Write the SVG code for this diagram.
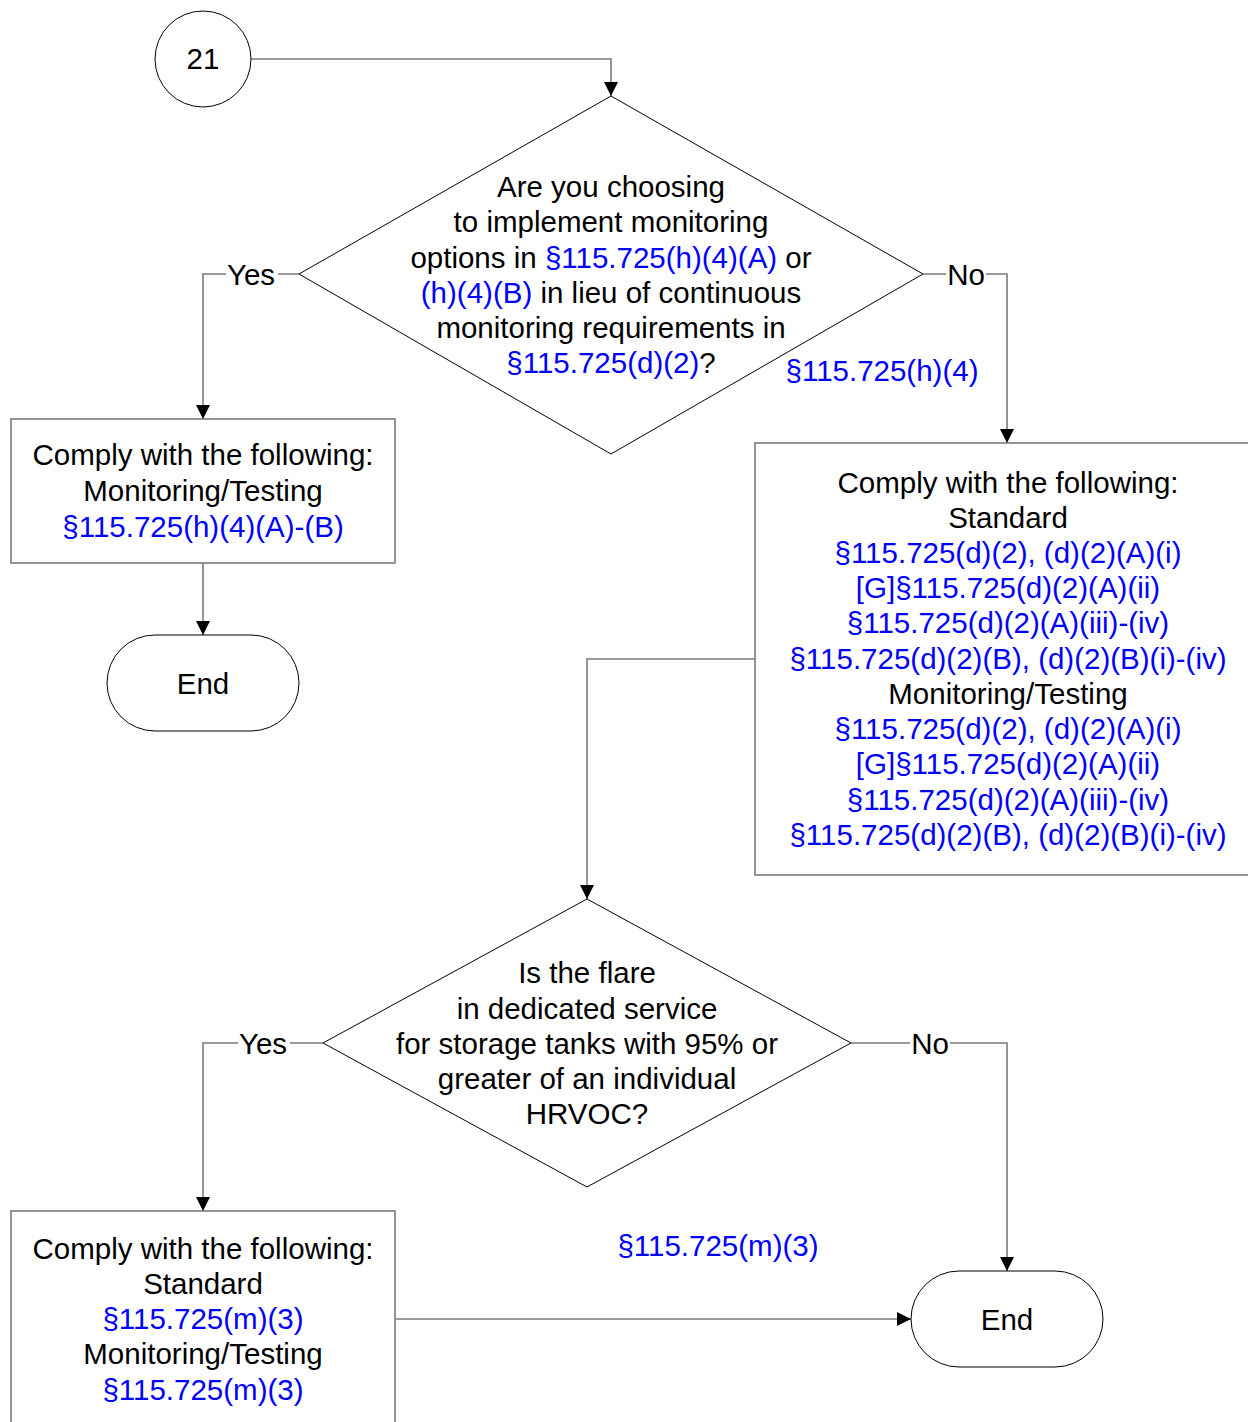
<svg xmlns="http://www.w3.org/2000/svg" width="1248" height="1422" viewBox="0 0 1248 1422">
<defs>
<style>
text{font-family:"Liberation Sans",Arial,sans-serif;font-size:29.5px;fill:#000;text-anchor:middle}
.b{fill:#0000ff}
.shape{fill:#fff;stroke:#000;stroke-width:1}
.box{fill:#fff;stroke:#7a7a7a;stroke-width:1.6}
.conn{fill:none;stroke:#7a7a7a;stroke-width:1.6}
.lbg{fill:#fff;stroke:none}
</style>
<marker id="arr" markerUnits="userSpaceOnUse" markerWidth="14" markerHeight="16" refX="14" refY="7" orient="auto" viewBox="0 0 14 14">
<path d="M0,0 L14,7 L0,14 Z" fill="#000"/>
</marker>
</defs>
<rect width="1248" height="1422" fill="#fff"/>

<g id="connectors">
<path class="conn" d="M251,59 H611 V96" marker-end="url(#arr)"/>
<path class="conn" d="M299,274 H203 V419" marker-end="url(#arr)"/>
<path class="conn" d="M923,274 H1007 V443" marker-end="url(#arr)"/>
<path class="conn" d="M203,563 V635" marker-end="url(#arr)"/>
<path class="conn" d="M755,659 H587 V899" marker-end="url(#arr)"/>
<path class="conn" d="M323,1043 H203 V1211" marker-end="url(#arr)"/>
<path class="conn" d="M851,1043 H1007 V1271" marker-end="url(#arr)"/>
<path class="conn" d="M395,1319 H911" marker-end="url(#arr)"/>
<rect class="lbg" x="226" y="258" width="52" height="32"/>
<text x="251" y="285">Yes</text>
<rect class="lbg" x="946" y="258" width="40" height="32"/>
<text x="966" y="285">No</text>
<rect class="lbg" x="238" y="1027" width="52" height="32"/>
<text x="263" y="1054">Yes</text>
<rect class="lbg" x="910" y="1027" width="40" height="32"/>
<text x="930" y="1054">No</text>
<text class="b" x="882" y="381">§115.725(h)(4)</text>
<text class="b" x="718" y="1256">§115.725(m)(3)</text>
</g>

<g id="n21">
<circle class="shape" cx="203" cy="59" r="48"/>
<text x="203" y="69">21</text>
</g>

<g id="d1">
<polygon class="shape" points="611,96 923,274 611,454 299,274"/>
<text x="611" y="197">Are you choosing</text>
<text x="611" y="232">to implement monitoring</text>
<text x="611" y="268">options in <tspan class="b">§115.725(h)(4)(A)</tspan> or</text>
<text x="611" y="303"><tspan class="b">(h)(4)(B)</tspan> in lieu of continuous</text>
<text x="611" y="338">monitoring requirements in</text>
<text x="611" y="373"><tspan class="b">§115.725(d)(2)</tspan>?</text>
</g>

<g id="boxL">
<rect class="box" x="11" y="419" width="384" height="144"/>
<text x="203" y="465">Comply with the following:</text>
<text x="203" y="501">Monitoring/Testing</text>
<text class="b" x="203" y="537">§115.725(h)(4)(A)-(B)</text>
</g>

<g id="end1">
<rect class="shape" x="107" y="635" width="192" height="96" rx="48" ry="48"/>
<text x="203" y="694">End</text>
</g>

<g id="boxR">
<rect class="box" x="755" y="443" width="510" height="432"/>
<text x="1008" y="493">Comply with the following:</text>
<text x="1008" y="528">Standard</text>
<text class="b" x="1008" y="563">§115.725(d)(2), (d)(2)(A)(i)</text>
<text class="b" x="1008" y="598">[G]§115.725(d)(2)(A)(ii)</text>
<text class="b" x="1008" y="633">§115.725(d)(2)(A)(iii)-(iv)</text>
<text class="b" x="1008" y="669">§115.725(d)(2)(B), (d)(2)(B)(i)-(iv)</text>
<text x="1008" y="704">Monitoring/Testing</text>
<text class="b" x="1008" y="739">§115.725(d)(2), (d)(2)(A)(i)</text>
<text class="b" x="1008" y="774">[G]§115.725(d)(2)(A)(ii)</text>
<text class="b" x="1008" y="810">§115.725(d)(2)(A)(iii)-(iv)</text>
<text class="b" x="1008" y="845">§115.725(d)(2)(B), (d)(2)(B)(i)-(iv)</text>
</g>

<g id="d2">
<polygon class="shape" points="587,899 851,1043 587,1187 323,1043"/>
<text x="587" y="983">Is the flare</text>
<text x="587" y="1019">in dedicated service</text>
<text x="587" y="1054">for storage tanks with 95% or</text>
<text x="587" y="1089">greater of an individual</text>
<text x="587" y="1124">HRVOC?</text>
</g>

<g id="boxB">
<rect class="box" x="11" y="1211" width="384" height="230"/>
<text x="203" y="1259">Comply with the following:</text>
<text x="203" y="1294">Standard</text>
<text class="b" x="203" y="1329">§115.725(m)(3)</text>
<text x="203" y="1364">Monitoring/Testing</text>
<text class="b" x="203" y="1400">§115.725(m)(3)</text>
</g>

<g id="end2">
<rect class="shape" x="911" y="1271" width="192" height="96" rx="48" ry="48"/>
<text x="1007" y="1330">End</text>
</g>
</svg>
